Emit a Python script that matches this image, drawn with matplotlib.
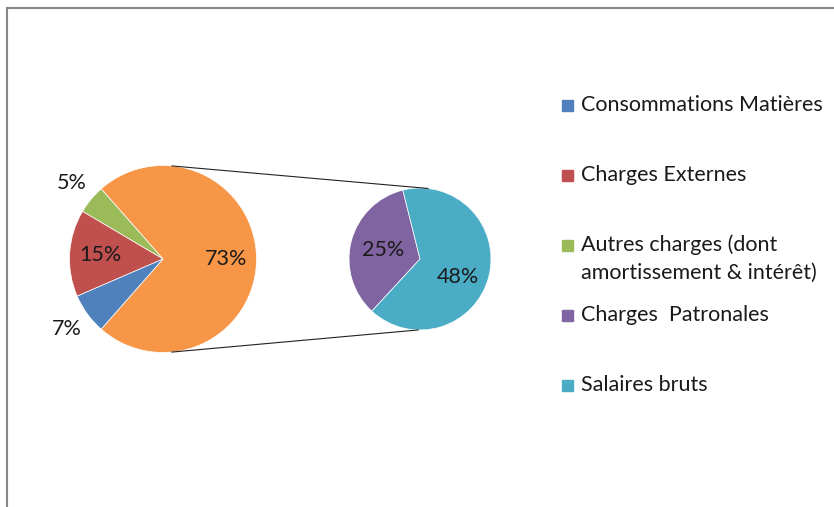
import numpy as np
import matplotlib.pyplot as plt
from matplotlib.patches import Rectangle

plt.rcParams['font.family'] = ['Lato', 'DejaVu Sans']

# données
categories = ['Consommations Matières', 'Charges Externes',
              'Autres charges (dont\namortissement & intérêt)',
              'Charges  Patronales', 'Salaires bruts']
values = [7, 15, 5, 25, 48]
colors = ['#4F81BD', '#C0504D', '#9BBB59', '#8064A2', '#4BACC6']
other_color = '#F79646'

main_vals = values[:3]
sub_vals = values[3:]
other = sum(sub_vals)

W, H = 834, 507
fig = plt.figure(figsize=(W / 100, H / 100), dpi=100)
ax = fig.add_axes([0, 0, 1, 1])

# camembert principal : "autre" centré à droite, puis sens anti-horaire
c1, r1 = (163, H - 259), 93.5
big = [other] + main_vals[::-1]
big_cols = [other_color] + colors[:3][::-1]
start1 = -other / sum(big) * 180
ax.pie(big, colors=big_cols, startangle=start1, counterclock=True,
       center=c1, radius=r1, wedgeprops=dict(edgecolor='white', linewidth=0.5))

# second camembert
c2, r2 = (420, H - 259), 71
start2 = 104
ax.pie(sub_vals, colors=colors[3:], startangle=start2, counterclock=True,
       center=c2, radius=r2, wedgeprops=dict(edgecolor='white', linewidth=0.5))

# étiquettes
ang = start1
for v in big:
    span = v / sum(big) * 360
    mid = np.deg2rad(ang + span / 2)
    d = 0.67 if v >= 10 else 1.27
    ax.text(c1[0] + d * r1 * np.cos(mid), c1[1] + d * r1 * np.sin(mid),
            f'{v}%', ha='center', va='center', fontsize=15.5, color='#1a1a1a')
    ang += span

ang = start2
for v, d in zip(sub_vals, [0.53, 0.55]):
    span = v / other * 360
    mid = np.deg2rad(ang + span / 2)
    ax.text(c2[0] + d * r2 * np.cos(mid), c2[1] + d * r2 * np.sin(mid) - (8 if v == 48 else 0),
            f'{v}%', ha='center', va='center', fontsize=15.5, color='#1a1a1a')
    ang += span

# lignes de liaison
for a1, a2 in [(84.5, 83.6), (-84.5, -91.6)]:
    p1 = (c1[0] + r1 * np.cos(np.deg2rad(a1)), c1[1] + r1 * np.sin(np.deg2rad(a1)))
    p2 = (c2[0] + r2 * np.cos(np.deg2rad(a2)), c2[1] + r2 * np.sin(np.deg2rad(a2)))
    ax.plot([p1[0], p2[0]], [p1[1], p2[1]], color='#222222', lw=0.8)

# légende
for i, (lab, col) in enumerate(zip(categories, colors)):
    y = H - (105 + 70 * i)
    ax.add_patch(Rectangle((562, y - 5.5), 11, 11, color=col))
    for k, line in enumerate(lab.split('\n')):
        ax.text(581, y - 28 * k, line, ha='left', va='center',
                fontsize=15.5, color='#1a1a1a')

# cadre
ax.plot([7, W], [H - 8, H - 8], color='#888888', lw=1.5)
ax.plot([7, 7], [0, H - 8], color='#888888', lw=1.5)

ax.set_xlim(0, W)
ax.set_ylim(0, H)
ax.axis('off')

fig.savefig('out.png', dpi=100)
